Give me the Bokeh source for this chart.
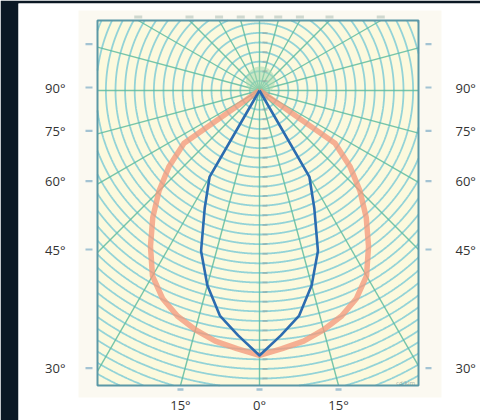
import numpy as np
from bokeh.plotting import figure
from bokeh.models import ColumnDataSource
from bokeh.core.properties import value
from bokeh.embed import file_html
from bokeh.resources import INLINE

# ---------------- data ----------------
angles = [0, 5, 10, 15, 20, 25, 30, 35, 40, 45, 50, 55, 60, 65, 70, 75, 80, 85, 90]
blue_cd = [276, 256, 238, 210, 178, 135, 104, 0, 0, 0, 0, 0, 0, 0, 0, 0, 0, 0, 0]
orange_cd = [276, 270, 265, 258, 250, 239, 223, 198, 173, 148, 123, 96, 0, 0, 0, 0, 0, 0, 0]
side_angles = [90, 75, 60, 45, 30]
side_labels = ["90°", "75°", "60°", "45°", "30°"]
bottom_angles = [-15, 0, 15]
bottom_labels = ["15°", "0°", "15°"]
grid_radii = list(range(10, 380, 10))
grid_angles = list(range(0, 360, 15))
unit_label = "cd/klm"

# ---------------- geometry (px -> data) ----------------
K = 0.96            # px per cd unit
CX, CY = 259, 90    # pixel position of the pole
def dx(px): return (px - CX) / K
def dy(py): return (CY - py) / K

W, H = 480, 420
p = figure(width=W, height=H, output_backend="svg", toolbar_location=None,
           x_range=(dx(18), dx(480)), y_range=(dy(420), dy(3)),
           x_axis_location=None, y_axis_location=None,
           min_border_left=18, min_border_right=0, min_border_top=3, min_border_bottom=0)
p.border_fill_color = "#0b1824"
p.background_fill_color = "#ffffff"
p.outline_line_color = None
p.grid.visible = False

FX0, FX1, FY0, FY1 = dx(97), dx(418), dy(385), dy(20)

# halo and paper
p.quad(left=[dx(78)], right=[dx(441)], top=[dy(10)], bottom=[dy(397)],
       fill_color="#fbf9f1", line_color=None)
p.quad(left=[FX0], right=[FX1], top=[FY1], bottom=[FY0],
       fill_color="#fcf9dd", line_color=None)

# circles clipped to frame
def runs(xs, ys):
    ok = (xs >= FX0) & (xs <= FX1) & (ys >= FY0) & (ys <= FY1)
    out_x, out_y, cx, cy = [], [], [], []
    for x, y, o in zip(xs, ys, ok):
        if o:
            cx.append(float(x)); cy.append(float(y))
        elif cx:
            out_x.append(cx); out_y.append(cy); cx, cy = [], []
    if cx:
        out_x.append(cx); out_y.append(cy)
    return out_x, out_y

t = np.linspace(0, 2 * np.pi, 2881)
cxs, cys = [], []
for r in grid_radii:
    a, b = runs(r * np.cos(t), r * np.sin(t))
    cxs += a; cys += b
p.multi_line(cxs, cys, line_color="#80ccd6", line_width=1.8, line_alpha=0.85)

# radial lines
rxs, rys = [], []
for g in grid_angles:
    ph = np.radians(g)
    ux, uy = np.sin(ph), -np.cos(ph)
    ts = []
    if ux > 1e-9: ts.append(FX1 / ux)
    if ux < -1e-9: ts.append(FX0 / ux)
    if uy > 1e-9: ts.append(FY1 / uy)
    if uy < -1e-9: ts.append(FY0 / uy)
    tt = min(ts)
    rxs.append([0, tt * ux]); rys.append([0, tt * uy])
p.multi_line(rxs, rys, line_color="#5fbca0", line_width=1.4, line_alpha=0.85)

# greenish glow at the pole
p.circle(x=[1], y=[10], radius=15, fill_color="#a4d9ae", fill_alpha=0.55, line_color=None)

# scale marks on the centre line
mx = [[3 / K, 8 / K] for r in grid_radii if -r >= FY0 + 4] + [[3 / K, 8 / K] for r in grid_radii if r <= FY1 - 4]
my = [[-r, -r] for r in grid_radii if -r >= FY0 + 4] + [[r, r] for r in grid_radii if r <= FY1 - 4]
p.multi_line(mx, my, line_color="#8c9c98", line_width=2, line_alpha=0.45)

# frame
p.quad(left=[FX0], right=[FX1], top=[FY1], bottom=[FY0],
       fill_color=None, line_color="#5b98a6", line_width=2)

# small blurry marks along top edge (where radial lines meet it)
tx = [r[1] for r, s in zip(rxs, rys) if abs(s[1] - FY1) < 1e-6]
p.multi_line([[x - 4 / K, x + 4 / K] for x in tx], [[dy(16.5), dy(16.5)] for x in tx],
             line_color="#7f9c90", line_width=3, line_alpha=0.35)

# side ticks
def side_y(a):
    return FX0 * np.cos(np.radians(a)) / np.sin(np.radians(a)) + 3 / K
sy = [side_y(a) for a in side_angles] + [side_y(105)]
p.multi_line([[dx(85), dx(92)] for y in sy] + [[dx(425), dx(431)] for y in sy],
             [[y, y] for y in sy] * 2, line_color="#8db5cc", line_width=2.2, line_alpha=0.8)

# bottom ticks
bx = [FY0 * -np.tan(np.radians(a)) for a in bottom_angles]
p.multi_line([[x - 3 / K, x + 3 / K] for x in bx], [[dy(389), dy(389)] for x in bx],
             line_color="#8db5cc", line_width=2.5, line_alpha=0.8)

p.text(x=[dx(405)], y=[dy(382)], text=[unit_label], text_font=value("Open Sans"),
       text_font_size="6px", text_color="#55777f", text_alpha=0.6,
       text_align="center", text_baseline="middle")

# intensity curves (mirrored C-planes)
def curve(vals):
    th = [-a for a in angles[::-1]] + angles[1:]
    vv = vals[::-1] + vals[1:]
    xs = [v * np.sin(np.radians(a)) for a, v in zip(th, vv)]
    ys = [-v * np.cos(np.radians(a)) for a, v in zip(th, vv)]
    return xs, ys

ox, oy = curve(orange_cd)
p.line(ox, oy, line_color="#f39a7c", line_width=5.5, line_alpha=0.78, line_join="round")
bxs, bys = curve(blue_cd)
p.line(bxs, bys, line_color="#2c6cb0", line_width=2.6, line_join="round")

# angle labels
ly = [side_y(a) for a in side_angles]
src_l = ColumnDataSource(dict(x=[dx(65)] * len(ly), y=ly, t=side_labels))
src_r = ColumnDataSource(dict(x=[dx(455)] * len(ly), y=ly, t=side_labels))
for src, al in ((src_l, "right"), (src_r, "left")):
    p.text(x="x", y="y", text="t", source=src, text_font=value("Open Sans"),
           text_font_size="13px", text_color="#333333", text_align=al,
           text_baseline="middle")
src_b = ColumnDataSource(dict(x=bx, y=[dy(404)] * len(bx), t=bottom_labels))
p.text(x="x", y="y", text="t", source=src_b, text_font=value("Open Sans"),
       text_font_size="13px", text_color="#333333", text_align="center",
       text_baseline="middle")

open("out.html", "w").write(file_html(p, INLINE))
